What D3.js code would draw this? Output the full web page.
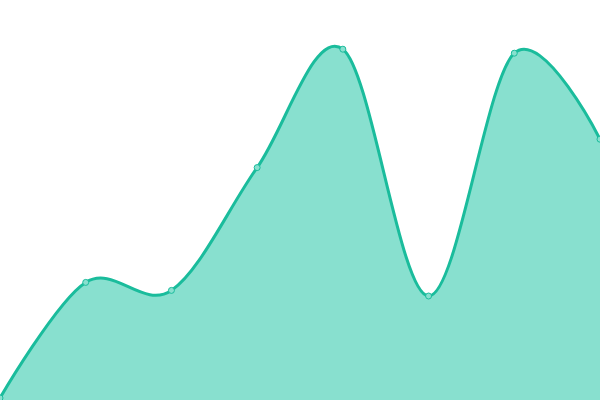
<html>
<head>
<script src="https://d3js.org/d3.v7.min.js"></script>
<style>
  body { margin: 0; background: #fff; }
</style>
</head>
<body>
<div id="viz"></div>
<script>
var categories = [0, 1, 2, 3, 4, 5, 6, 7];
var values = [0.5, 29.4, 27.4, 58.1, 87.7, 26.0, 86.7, 65.2];

var width = 600, height = 400;

var svg = d3.select("#viz").append("svg")
    .attr("width", width)
    .attr("height", height);

var x = d3.scaleLinear().domain([0, 7]).range([0, width]);
var y = d3.scaleLinear().domain([0, 100]).range([height, 0]);

var data = categories.map(function (c, i) { return { c: c, v: values[i] }; });

var area = d3.area()
    .curve(d3.curveCardinal)
    .x(function (d) { return x(d.c); })
    .y0(height)
    .y1(function (d) { return y(d.v); });

var line = d3.line()
    .curve(d3.curveCardinal)
    .x(function (d) { return x(d.c); })
    .y(function (d) { return y(d.v); });

svg.append("path")
    .datum(data)
    .attr("d", area)
    .style("fill", "#88e0cf");

svg.append("path")
    .datum(data)
    .attr("d", line)
    .style("fill", "none")
    .style("stroke", "#1abc9c")
    .style("stroke-width", 3);

svg.selectAll("circle")
    .data(data)
    .enter().append("circle")
    .attr("cx", function (d) { return x(d.c); })
    .attr("cy", function (d) { return y(d.v); })
    .attr("r", 3)
    .style("fill", "#88e0cf")
    .style("stroke", "#1abc9c")
    .style("stroke-width", 1);
</script>
</body>
</html>
